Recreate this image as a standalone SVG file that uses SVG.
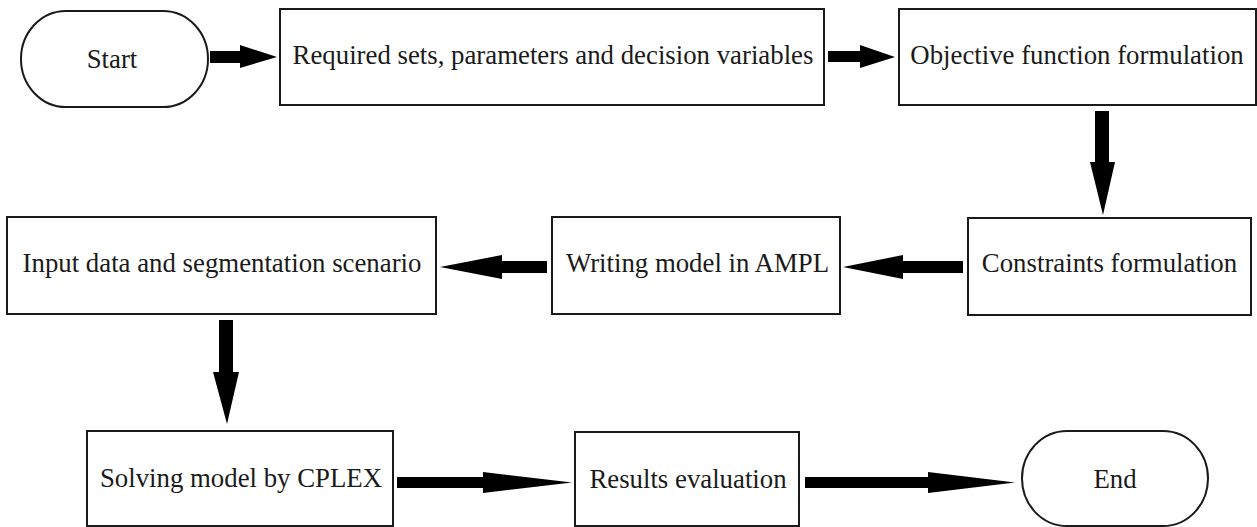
<svg xmlns="http://www.w3.org/2000/svg" width="1257" height="527" viewBox="0 0 1257 527">
<style>
.box{fill:#fff;stroke:#1a1a1a;stroke-width:2}
.lbl{font-family:"Liberation Serif","Times New Roman",serif;font-size:26.8px;fill:#1a1a1a;text-anchor:middle}
.arr{fill:#000;stroke:none}
</style>
<rect width="1257" height="527" fill="#fff"/>
<g id="start">
<rect class="box" x="21" y="11" width="187" height="96" rx="45" ry="48"/>
<text class="lbl" x="112" y="68">Start</text>
</g>
<g id="required">
<rect class="box" x="280" y="9" width="544" height="96"/>
<text class="lbl" x="553" y="64">Required sets, parameters and decision variables</text>
</g>
<g id="objective">
<rect class="box" x="899" y="9" width="357" height="96"/>
<text class="lbl" x="1077" y="64">Objective function formulation</text>
</g>
<g id="constraints">
<rect class="box" x="968" y="218" width="283" height="97"/>
<text class="lbl" x="1109.5" y="272">Constraints formulation</text>
</g>
<g id="writing">
<rect class="box" x="552" y="217" width="288" height="97"/>
<text class="lbl" x="697.5" y="272">Writing model in AMPL</text>
</g>
<g id="input">
<rect class="box" x="7" y="217" width="429" height="97"/>
<text class="lbl" x="222" y="272">Input data and segmentation scenario</text>
</g>
<g id="solving">
<rect class="box" x="87" y="431" width="306" height="95"/>
<text class="lbl" x="241" y="487">Solving model by CPLEX</text>
</g>
<g id="results">
<rect class="box" x="575" y="432" width="224" height="94"/>
<text class="lbl" x="688" y="488">Results evaluation</text>
</g>
<g id="end">
<rect class="box" x="1022" y="431" width="186" height="95" rx="45" ry="47.5"/>
<text class="lbl" x="1115" y="488">End</text>
</g>
<g id="connectors">
<polygon class="arr" points="210,51 240,51 240,45 277,57 240,68 240,63 210,63"/>
<polygon class="arr" points="828,51 860,51 860,45 895,57 860,68 860,62 828,62"/>
<polygon class="arr" points="1095,111 1109,111 1109,162 1115,162 1103,215 1090,162 1095,162"/>
<polygon class="arr" points="963,261 903,261 903,255 843,267 903,279 903,273 963,273"/>
<polygon class="arr" points="547,261 502,261 502,255 440,267 502,279 502,273 547,273"/>
<polygon class="arr" points="219,320 233,320 233,372 239,372 227,424 213,372 219,372"/>
<polygon class="arr" points="397,477 483,477 483,472 572,482.5 483,493 483,488 397,488"/>
<polygon class="arr" points="805,477 928,477 928,472 1015,482.5 928,493 928,488 805,488"/>
</g>
</svg>
